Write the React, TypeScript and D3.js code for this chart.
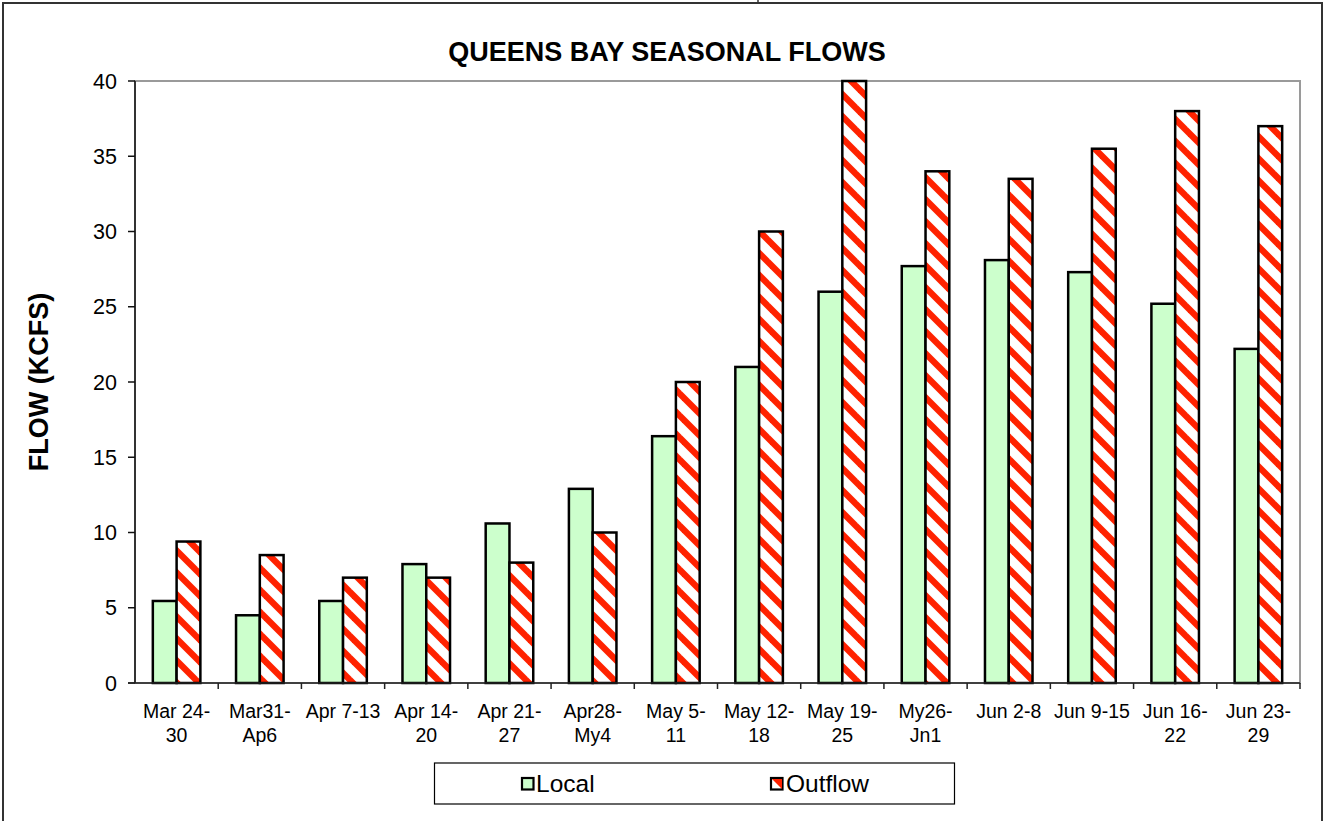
import React from "react";
import * as d3 from "d3";

const categories: string[] = [
  "Mar 24-\n30", "Mar31-\nAp6", "Apr 7-13", "Apr 14-\n20", "Apr 21-\n27", "Apr28-\nMy4", "May 5-\n11",
  "May 12-\n18", "May 19-\n25", "My26-\nJn1", "Jun 2-8", "Jun 9-15", "Jun 16-\n22", "Jun 23-\n29",
];
const localValues: number[] = [5.45, 4.5, 5.45, 7.9, 10.6, 12.9, 16.4, 21.0, 26.0, 27.7, 28.1, 27.3, 25.2, 22.2];
const outflowValues: number[] = [9.4, 8.5, 7.0, 7.0, 8.0, 10.0, 20.0, 30.0, 40.0, 34.0, 33.5, 35.5, 38.0, 37.0];
const seriesNames: string[] = ["Local", "Outflow"];
const yTicks: number[] = [0, 5, 10, 15, 20, 25, 30, 35, 40];
const chartTitle = "QUEENS BAY SEASONAL FLOWS";
const yTitle = "FLOW (KCFS)";

const W = 1325;
const H = 821;
const FONT = "'Liberation Sans', Arial, Helvetica, sans-serif";
const GREEN = "#CCFFCC";
const RED = "#FF2200";

export default function App() {
  const left = 135, right = 1300, top = 81, bottom = 683;
  const x = d3.scaleBand<string>().domain(categories).range([left, right]).padding(0);
  const inner = d3.scaleBand<string>().domain(seriesNames).range([0, x.bandwidth()]).paddingInner(0).paddingOuter(0.75);
  const y = d3.scaleLinear().domain([0, 40]).range([bottom, top]);

  const fills: Record<string, string> = { Local: GREEN, Outflow: "url(#hatch)" };
  const seriesData: Record<string, number[]> = { Local: localValues, Outflow: outflowValues };

  return (
    <svg width={W} height={H} style={{ position: "absolute", left: 0, top: 0, background: "#fff" }}>
      <defs>
        <pattern id="hatch" patternUnits="userSpaceOnUse" width={22} height={22}>
          <rect x={0} y={0} width={22} height={22} fill="#fff" />
          <polygon points="0,-4.5 22,17.5 22,26.5 0,4.5" fill={RED} />
          <polygon points="0,17.5 22,39.5 22,48.5 0,26.5" fill={RED} />
          <polygon points="0,-26.5 22,-4.5 22,4.5 0,-17.5" fill={RED} />
        </pattern>
      </defs>
      <rect x={0} y={0} width={W} height={H} fill="#fff" />
      {/* outer frame */}
      <rect x={3} y={3} width={1319} height={830} fill="none" stroke="#333" strokeWidth={2} />
      <line x1={758} y1={0} x2={758} y2={3} stroke="#333" strokeWidth={1.5} />

      {/* title */}
      <text x={667} y={61} textAnchor="middle" fontFamily={FONT} fontWeight="bold" fontSize={27} fill="#000">
        {chartTitle}
      </text>

      {/* plot border (gray) */}
      <rect x={left} y={top} width={right - left} height={bottom - top} fill="none" stroke="#9a9a9a" strokeWidth={2} />

      {/* bars */}
      {seriesNames.map((s) =>
        categories.map((c, i) => {
          const v = seriesData[s][i];
          const bx = (x(c) as number) + (inner(s) as number);
          return (
            <rect key={s + i} x={bx} y={y(v)} width={inner.bandwidth()} height={y(0) - y(v)}
              fill={fills[s]} stroke="#000" strokeWidth={2.5} />
          );
        })
      )}

      {/* y axis */}
      <line x1={left} y1={top} x2={left} y2={bottom} stroke="#111" strokeWidth={1.5} />
      {yTicks.map((t) => (
        <g key={t}>
          <line x1={left - 7} x2={left} y1={y(t)} y2={y(t)} stroke="#111" strokeWidth={1.5} />
          <text x={117} y={y(t)} dy="0.35em" textAnchor="end" fontFamily={FONT} fontSize={21.5} fill="#000">{t}</text>
        </g>
      ))}

      {/* x axis */}
      <line x1={left - 7} y1={bottom} x2={right} y2={bottom} stroke="#222" strokeWidth={1.5} />
      {categories.map((c, i) => (
        <line key={"t" + i} x1={(x(c) as number) + x.bandwidth()} x2={(x(c) as number) + x.bandwidth()}
          y1={bottom} y2={bottom + 6} stroke="#222" strokeWidth={1.5} />
      ))}
      {categories.map((c, i) => (
        <text key={"l" + i} x={(x(c) as number) + x.bandwidth() / 2} y={718} textAnchor="middle"
          fontFamily={FONT} fontSize={19.5} fill="#000">
          {c.split("\n").map((ln, j) => (
            <tspan key={j} x={(x(c) as number) + x.bandwidth() / 2} dy={j === 0 ? 0 : 24}>{ln}</tspan>
          ))}
        </text>
      ))}

      {/* y title */}
      <text transform={`translate(48,${(top + bottom) / 2}) rotate(-90)`} textAnchor="middle"
        fontFamily={FONT} fontWeight="bold" fontSize={27} fill="#000">{yTitle}</text>

      {/* legend */}
      <rect x={434.5} y={763} width={520} height={41} fill="#fff" stroke="#000" strokeWidth={1.2} />
      <rect x={522} y={778} width={11.5} height={11.5} fill={GREEN} stroke="#000" strokeWidth={2.2} />
      <text x={536} y={792} fontFamily={FONT} fontSize={24.5} fill="#000">{seriesNames[0]}</text>
      <rect x={771} y={778} width={11.5} height={11.5} fill="#fff" stroke="#000" strokeWidth={2.2} />
      <polygon points="772,779 782,779 782,789" fill={RED} />
      <text x={786} y={792} fontFamily={FONT} fontSize={24.5} fill="#000">{seriesNames[1]}</text>
    </svg>
  );
}
